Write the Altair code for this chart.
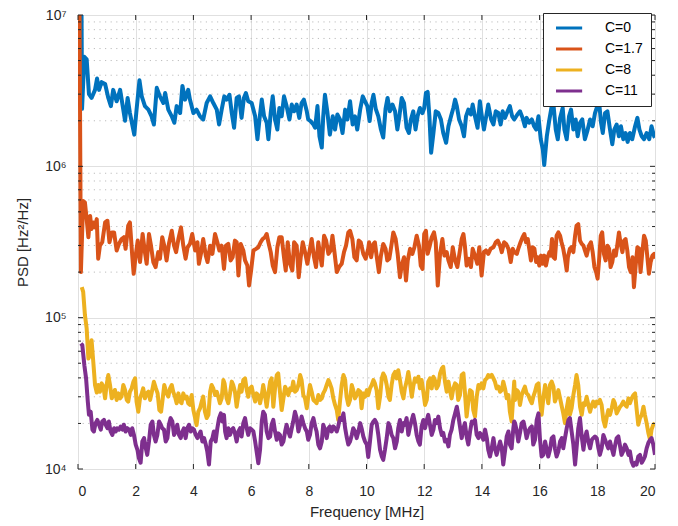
import altair as alt
import pandas as pd

SERIES = ["C=0", "C=1.7", "C=8", "C=11"]
COLORS = ["#0072BD", "#D95319", "#EDB120", "#7E2F8E"]
X_TICKS = [0, 2, 4, 6, 8, 10, 12, 14, 16, 18, 20]
Y_MAJOR = [1e4, 1e5, 1e6, 1e7]
Y_MINOR = [2e4, 3e4, 4e4, 5e4, 6e4, 7e4, 8e4, 9e4,
           2e5, 3e5, 4e5, 5e5, 6e5, 7e5, 8e5, 9e5,
           2e6, 3e6, 4e6, 5e6, 6e6, 7e6, 8e6, 9e6]

# (frequency MHz, PSD Hz^2/Hz)
C0 = [
    (0.11, 3.0e7), (0.14, 2.4e6), (0.22, 5.3e6), (0.3, 5.1e6), (0.38, 3.0e6), (0.47, 2.83e6), (0.59, 3.2e6),
    (0.66, 3.8e6), (0.73, 3.2e6), (0.82, 3.6e6), (0.94, 3.5e6), (1.05, 2.83e6), (1.14, 2.5e6), (1.22, 3.2e6),
    (1.34, 2.69e6), (1.46, 3.2e6), (1.57, 2.37e6), (1.63, 2.0e6), (1.72, 2.83e6), (1.8, 2.25e6), (1.95, 1.62e6),
    (2.03, 2.37e6), (2.13, 3.7e6), (2.21, 2.9e6), (2.32, 2.5e6), (2.44, 2.37e6), (2.55, 2.14e6), (2.63, 1.89e6),
    (2.73, 3.3e6), (2.84, 2.9e6), (2.96, 2.62e6), (3.02, 3.05e6), (3.13, 2.37e6), (3.25, 2.14e6), (3.34, 1.94e6),
    (3.42, 2.5e6), (3.54, 2.25e6), (3.62, 3.4e6), (3.71, 2.76e6), (3.82, 3.2e6), (3.88, 2.76e6), (4.0, 2.25e6),
    (4.11, 2.37e6), (4.23, 2.14e6), (4.34, 2.04e6), (4.46, 2.62e6), (4.58, 2.9e6), (4.69, 2.62e6), (4.81, 2.37e6),
    (4.89, 1.89e6), (4.98, 2.37e6), (5.07, 2.9e6),
    (5.15, 2.76e6), (5.25, 2.97e6), (5.33, 2.25e6), (5.41, 1.8e6), (5.5, 2.83e6), (5.58, 2.9e6), (5.67, 2.09e6),
    (5.75, 2.83e6), (5.82, 3.05e6), (5.9, 2.69e6), (6.02, 2.62e6), (6.08, 2.37e6), (6.14, 2.14e6), (6.22, 1.51e6),
    (6.29, 2.04e6), (6.37, 2.76e6), (6.45, 2.14e6), (6.54, 1.94e6), (6.6, 1.51e6), (6.68, 2.25e6), (6.75, 2.9e6),
    (6.83, 2.04e6), (6.91, 1.75e6), (6.98, 2.43e6), (7.06, 2.14e6), (7.14, 2.9e6), (7.23, 2.5e6), (7.33, 2.04e6),
    (7.41, 2.56e6), (7.49, 2.31e6), (7.58, 2.56e6), (7.67, 2.09e6), (7.75, 2.62e6), (7.83, 2.76e6), (7.93, 2.31e6),
    (7.98, 2.04e6), (8.06, 1.99e6), (8.16, 1.89e6), (8.22, 1.8e6), (8.3, 2.5e6), (8.37, 1.58e6), (8.45, 1.33e6),
    (8.5, 2.14e6), (8.56, 2.97e6), (8.64, 2.31e6), (8.73, 1.62e6), (8.83, 2.14e6), (8.91, 1.75e6), (8.99, 2.2e6),
    (9.08, 2.04e6), (9.17, 1.66e6), (9.26, 2.37e6), (9.34, 2.04e6), (9.43, 2.69e6), (9.52, 1.89e6), (9.6, 2.14e6),
    (9.68, 1.75e6), (9.78, 2.37e6), (9.87, 2.9e6), (9.95, 2.69e6), (10.03, 2.5e6),
    (10.11, 1.99e6), (10.18, 2.62e6), (10.24, 2.97e6), (10.32, 2.4e6), (10.41, 2.14e6), (10.5, 1.75e6),
    (10.58, 1.55e6), (10.66, 2.4e6), (10.73, 2.83e6), (10.81, 2.31e6), (10.9, 2.56e6), (10.99, 2.31e6),
    (11.07, 1.75e6), (11.14, 2.14e6), (11.22, 2.83e6), (11.3, 2.62e6), (11.39, 1.8e6), (11.47, 1.66e6),
    (11.54, 2.04e6), (11.62, 2.31e6), (11.7, 1.75e6), (11.77, 2.14e6), (11.85, 2.43e6), (11.94, 2.25e6),
    (12.0, 2.43e6), (12.06, 3.05e6), (12.12, 3.1e6), (12.18, 2.14e6), (12.24, 1.23e6), (12.32, 1.66e6),
    (12.4, 2.31e6), (12.49, 2.25e6), (12.58, 2.04e6), (12.66, 1.66e6), (12.76, 1.43e6), (12.84, 1.84e6),
    (12.93, 2.14e6), (13.01, 2.43e6), (13.07, 2.76e6), (13.13, 2.5e6), (13.21, 2.04e6), (13.3, 1.84e6),
    (13.38, 1.58e6), (13.45, 2.14e6), (13.53, 2.37e6), (13.62, 2.2e6), (13.68, 2.56e6), (13.76, 2.14e6),
    (13.85, 1.8e6), (13.93, 2.69e6), (13.99, 2.2e6), (14.07, 1.75e6), (14.13, 2.04e6), (14.22, 2.56e6),
    (14.32, 2.04e6), (14.4, 1.89e6), (14.48, 2.31e6), (14.57, 2.25e6), (14.65, 1.89e6), (14.72, 2.31e6),
    (14.8, 2.09e6), (14.89, 2.31e6), (14.97, 2.5e6), (15.05, 2.14e6), (15.12, 2.04e6),
    (15.23, 2.2e6), (15.32, 2.31e6), (15.41, 2.09e6), (15.49, 1.84e6), (15.55, 2.09e6), (15.64, 1.94e6),
    (15.73, 2.04e6), (15.81, 1.84e6), (15.88, 1.75e6), (15.96, 2.14e6), (16.04, 1.51e6), (16.11, 1.3e6),
    (16.16, 1.02e6), (16.25, 1.58e6), (16.33, 1.99e6), (16.42, 2.5e6), (16.48, 2.56e6), (16.56, 1.75e6),
    (16.63, 1.51e6), (16.71, 2.09e6), (16.8, 2.43e6), (16.86, 1.75e6), (16.94, 1.51e6), (17.02, 2.14e6),
    (17.09, 2.37e6), (17.17, 1.75e6), (17.25, 2.04e6), (17.32, 1.58e6), (17.4, 1.94e6), (17.48, 2.04e6),
    (17.57, 1.51e6), (17.65, 1.7e6), (17.75, 2.04e6), (17.84, 1.84e6), (17.92, 2.25e6), (18.0, 2.5e6),
    (18.07, 2.56e6), (18.13, 1.94e6), (18.19, 1.66e6), (18.27, 2.25e6), (18.35, 2.31e6), (18.44, 1.75e6),
    (18.52, 1.4e6), (18.59, 1.75e6), (18.67, 1.89e6), (18.75, 1.58e6), (18.82, 1.84e6), (18.9, 1.51e6),
    (18.98, 1.66e6), (19.05, 1.45e6), (19.13, 1.66e6), (19.21, 1.51e6), (19.31, 1.84e6), (19.39, 2.09e6),
    (19.46, 1.75e6), (19.54, 1.58e6), (19.62, 1.51e6), (19.71, 1.66e6), (19.8, 1.51e6), (19.88, 1.84e6),
    (19.97, 1.58e6), (20.0, 1.55e6),
]

C17 = [
    (0.04, 3.0e7), (0.1, 2.0e5), (0.18, 5.9e5), (0.24, 5.77e5), (0.3, 4.48e5), (0.36, 3.4e5), (0.42, 4.7e5),
    (0.47, 3.85e5), (0.53, 4.26e5), (0.59, 3.95e5), (0.65, 4.48e5), (0.7, 2.45e5), (0.76, 2.99e5), (0.84, 3.15e5),
    (0.94, 4.26e5), (1.02, 4.37e5), (1.09, 3.15e5), (1.17, 3.66e5), (1.25, 3.66e5), (1.34, 2.78e5), (1.42, 3.07e5),
    (1.51, 3.31e5), (1.59, 3.4e5), (1.65, 2.85e5), (1.74, 4.05e5), (1.8, 4.26e5), (1.88, 2.57e5), (1.93, 1.95e5),
    (2.0, 2.57e5), (2.07, 3.23e5), (2.15, 2.33e5), (2.24, 3.57e5), (2.32, 2.71e5), (2.38, 2.27e5), (2.46, 3.57e5),
    (2.53, 2.99e5), (2.61, 2.33e5), (2.69, 2.16e5), (2.78, 2.71e5), (2.84, 2.45e5), (2.92, 3.4e5), (2.99, 2.99e5),
    (3.07, 2.39e5), (3.15, 3.07e5), (3.25, 3.75e5), (3.33, 2.99e5), (3.4, 2.71e5), (3.48, 3.31e5), (3.57, 3.95e5),
    (3.65, 2.99e5), (3.73, 2.45e5), (3.8, 2.92e5), (3.88, 3.07e5), (3.96, 3.57e5), (4.06, 2.78e5), (4.14, 3.15e5),
    (4.19, 2.27e5), (4.26, 2.64e5), (4.34, 3.31e5), (4.43, 2.57e5), (4.49, 2.33e5), (4.58, 2.99e5), (4.66, 2.64e5),
    (4.75, 3.57e5), (4.83, 3.15e5), (4.9, 2.78e5), (4.98, 2.99e5), (5.06, 2.1e5),
    (5.13, 2.99e5), (5.21, 3.07e5), (5.29, 2.39e5), (5.36, 2.51e5), (5.44, 3.23e5), (5.5, 3.15e5), (5.56, 1.9e5),
    (5.64, 3.07e5), (5.73, 2.78e5), (5.79, 2.39e5), (5.87, 2.21e5), (5.93, 1.63e5), (6.0, 2.05e5), (6.08, 2.78e5),
    (6.17, 2.85e5), (6.25, 2.92e5), (6.33, 3.15e5), (6.4, 3.31e5), (6.48, 3.4e5), (6.54, 3.57e5), (6.6, 3.15e5),
    (6.68, 2.71e5), (6.75, 2.21e5), (6.83, 2.0e5), (6.91, 2.92e5), (6.98, 3.4e5), (7.06, 3.4e5), (7.14, 2.51e5),
    (7.2, 2.05e5), (7.27, 3.15e5), (7.35, 2.27e5), (7.43, 2.05e5), (7.49, 3.15e5), (7.58, 2.99e5), (7.65, 1.85e5),
    (7.72, 2.51e5), (7.79, 3.15e5), (7.87, 2.71e5), (7.95, 2.27e5), (8.02, 2.71e5), (8.1, 3.31e5), (8.18, 2.51e5),
    (8.25, 2.16e5), (8.33, 3.15e5), (8.39, 2.64e5), (8.45, 2.21e5), (8.53, 3.48e5), (8.6, 3.23e5), (8.68, 2.64e5),
    (8.76, 2.78e5), (8.82, 3.48e5), (8.89, 2.71e5), (8.97, 2.0e5), (9.05, 2.16e5), (9.14, 2.27e5), (9.22, 2.71e5),
    (9.29, 2.99e5), (9.37, 3.66e5), (9.43, 3.75e5), (9.51, 3.31e5), (9.58, 2.51e5), (9.66, 2.39e5), (9.73, 3.23e5),
    (9.8, 3.15e5), (9.89, 2.64e5), (9.97, 2.45e5), (10.06, 2.85e5),
    (10.09, 3.15e5), (10.16, 2.51e5), (10.24, 3.07e5), (10.29, 3.15e5), (10.35, 2.57e5), (10.43, 2.0e5),
    (10.5, 2.57e5), (10.58, 3.07e5), (10.66, 2.85e5), (10.72, 2.39e5), (10.79, 2.45e5), (10.87, 3.07e5),
    (10.93, 3.66e5), (11.01, 3.31e5), (11.08, 2.64e5), (11.16, 1.85e5), (11.22, 2.21e5), (11.3, 2.51e5),
    (11.37, 1.76e5), (11.43, 2.39e5), (11.51, 2.85e5), (11.59, 2.64e5), (11.66, 2.92e5), (11.74, 3.48e5),
    (11.82, 2.99e5), (11.88, 2.21e5), (11.94, 2.1e5), (12.0, 3.57e5), (12.06, 3.75e5), (12.12, 2.64e5),
    (12.18, 2.92e5), (12.26, 3.4e5), (12.34, 3.66e5), (12.4, 3.15e5), (12.47, 1.63e5), (12.55, 2.64e5),
    (12.63, 3.31e5), (12.7, 2.57e5), (12.78, 2.71e5), (12.84, 2.39e5), (12.92, 2.16e5), (12.99, 2.92e5),
    (13.07, 2.39e5), (13.15, 2.16e5), (13.22, 2.64e5), (13.3, 3.31e5), (13.36, 3.57e5), (13.41, 2.99e5),
    (13.47, 2.21e5), (13.55, 2.45e5), (13.62, 2.16e5), (13.68, 2.85e5), (13.76, 2.57e5), (13.84, 2.27e5),
    (13.91, 2.92e5), (13.99, 1.9e5), (14.07, 2.71e5), (14.14, 2.78e5), (14.22, 2.64e5), (14.3, 2.85e5),
    (14.4, 2.92e5), (14.48, 3.15e5), (14.55, 3.23e5), (14.63, 2.99e5), (14.69, 2.71e5), (14.77, 3.15e5),
    (14.84, 3.07e5), (14.92, 2.85e5), (15.0, 2.33e5), (15.07, 2.85e5), (15.12, 2.71e5),
    (15.21, 2.64e5), (15.26, 2.85e5), (15.34, 3.15e5), (15.41, 3.4e5), (15.47, 3.57e5), (15.53, 3.15e5),
    (15.59, 3.31e5), (15.64, 2.85e5), (15.7, 2.39e5), (15.76, 2.92e5), (15.82, 2.85e5), (15.88, 2.33e5),
    (15.93, 2.51e5), (15.99, 2.21e5), (16.05, 2.57e5), (16.11, 2.27e5), (16.16, 2.57e5), (16.22, 2.21e5),
    (16.28, 2.51e5), (16.34, 2.71e5), (16.38, 2.57e5), (16.43, 3.31e5), (16.48, 2.51e5), (16.53, 2.45e5),
    (16.59, 3.48e5), (16.65, 3.66e5), (16.71, 3.48e5), (16.76, 3.15e5), (16.82, 2.85e5), (16.88, 2.45e5),
    (16.94, 2.05e5), (16.98, 2.51e5), (17.05, 2.85e5), (17.11, 2.92e5), (17.17, 2.71e5), (17.23, 3.48e5),
    (17.28, 4.05e5), (17.34, 4.15e5), (17.4, 3.23e5), (17.46, 3.07e5), (17.52, 2.99e5), (17.57, 2.78e5),
    (17.63, 2.57e5), (17.71, 2.99e5), (17.78, 3.15e5), (17.84, 2.71e5), (17.9, 2.16e5), (17.96, 2.0e5),
    (18.01, 1.81e5), (18.07, 2.51e5), (18.12, 3.48e5), (18.17, 3.66e5), (18.23, 2.64e5), (18.29, 2.39e5),
    (18.35, 2.99e5), (18.41, 2.85e5), (18.46, 2.16e5), (18.52, 2.33e5), (18.58, 2.78e5), (18.64, 2.57e5),
    (18.69, 2.99e5), (18.75, 3.66e5), (18.81, 3.07e5), (18.87, 2.71e5), (18.93, 3.23e5), (18.98, 3.31e5),
    (19.04, 2.78e5), (19.1, 2.16e5), (19.16, 2.0e5), (19.22, 2.51e5), (19.27, 1.59e5), (19.33, 2.21e5),
    (19.39, 2.92e5), (19.45, 2.85e5), (19.5, 2.0e5), (19.56, 2.71e5), (19.62, 3.48e5), (19.68, 3.23e5),
    (19.73, 2.57e5), (19.79, 1.95e5), (19.85, 2.33e5), (19.91, 2.57e5), (19.97, 2.64e5), (20.0, 2.45e5),
]

C8 = [
    (0.13, 1.59e5), (0.18, 1.48e5), (0.24, 1.04e5), (0.3, 8.5e4), (0.36, 5.37e4), (0.42, 5.65e4), (0.47, 7.1e4),
    (0.53, 5.11e4), (0.59, 3.59e4), (0.65, 3.2e4), (0.7, 3.59e4), (0.76, 3.24e4), (0.82, 3.68e4), (0.88, 3.5e4),
    (0.94, 2.93e4), (0.99, 3.59e4), (1.05, 4.18e4), (1.11, 3.59e4), (1.17, 2.93e4), (1.22, 3.08e4), (1.28, 3.33e4),
    (1.34, 2.86e4), (1.4, 3.16e4), (1.46, 2.93e4), (1.51, 3.01e4), (1.57, 3.59e4), (1.63, 3.33e4), (1.69, 2.86e4),
    (1.74, 2.79e4), (1.8, 3.24e4), (1.86, 3.41e4), (1.92, 3.77e4), (1.98, 3.97e4), (2.03, 2.79e4), (2.09, 2.39e4),
    (2.15, 2.93e4), (2.21, 3.16e4), (2.26, 3.41e4), (2.32, 2.93e4), (2.38, 3.16e4), (2.44, 3.24e4), (2.5, 2.86e4),
    (2.55, 3.16e4), (2.63, 3.77e4), (2.7, 3.41e4), (2.76, 3.16e4), (2.82, 2.45e4), (2.88, 2.39e4), (2.93, 2.86e4),
    (2.99, 3.59e4), (3.07, 3.16e4), (3.13, 3.01e4), (3.19, 3.41e4), (3.25, 3.59e4), (3.3, 3.24e4), (3.36, 3.01e4),
    (3.42, 2.72e4), (3.48, 3.16e4), (3.54, 2.79e4), (3.59, 2.72e4), (3.65, 3.16e4), (3.71, 2.93e4), (3.77, 3.01e4),
    (3.82, 2.72e4), (3.88, 2.65e4), (3.94, 3.08e4), (4.0, 2.45e4), (4.06, 2.17e4), (4.11, 1.95e4), (4.17, 2.39e4),
    (4.23, 2.52e4), (4.29, 2.79e4), (4.34, 3.01e4), (4.4, 2.39e4), (4.46, 2.17e4), (4.52, 2.28e4), (4.58, 3.24e4),
    (4.63, 3.59e4), (4.69, 3.41e4), (4.75, 3.08e4), (4.81, 3.24e4), (4.86, 3.01e4), (4.92, 2.72e4), (4.98, 2.93e4),
    (5.04, 3.87e4), (5.08, 3.68e4),
    (5.15, 2.93e4), (5.21, 2.72e4), (5.27, 3.16e4), (5.33, 3.78e4), (5.38, 3.59e4), (5.44, 3.24e4), (5.5, 2.58e4),
    (5.56, 3.08e4), (5.62, 3.59e4), (5.67, 3.24e4), (5.73, 3.87e4), (5.79, 3.97e4), (5.85, 3.32e4), (5.9, 3.0e4),
    (5.96, 3.41e4), (6.02, 3.5e4), (6.08, 3.08e4), (6.14, 2.79e4), (6.19, 3.16e4), (6.25, 3.08e4), (6.31, 2.72e4),
    (6.37, 3.08e4), (6.42, 3.59e4), (6.48, 3.08e4), (6.54, 2.58e4), (6.6, 3.16e4), (6.66, 3.78e4), (6.71, 3.97e4),
    (6.77, 2.58e4), (6.83, 3.41e4), (6.89, 4.18e4), (6.94, 4.28e4), (7.0, 3.24e4), (7.06, 2.45e4), (7.12, 2.93e4),
    (7.18, 3.5e4), (7.23, 3.32e4), (7.29, 3.08e4), (7.35, 3.41e4), (7.41, 3.32e4), (7.46, 3.78e4), (7.52, 3.24e4),
    (7.58, 3.32e4), (7.64, 3.59e4), (7.7, 4.18e4), (7.75, 3.87e4), (7.81, 3.08e4), (7.87, 2.93e4), (7.93, 2.52e4),
    (7.98, 3.0e4), (8.04, 3.59e4), (8.1, 3.24e4), (8.16, 2.86e4), (8.22, 2.79e4), (8.27, 2.72e4), (8.33, 3.08e4),
    (8.39, 2.86e4), (8.45, 2.93e4), (8.5, 3.16e4), (8.56, 3.32e4), (8.62, 3.59e4), (8.68, 3.87e4), (8.73, 3.68e4),
    (8.79, 3.41e4), (8.85, 2.93e4), (8.91, 2.65e4), (8.97, 2.45e4), (9.02, 2.11e4), (9.08, 2.79e4), (9.14, 3.59e4),
    (9.2, 4.18e4), (9.26, 3.87e4), (9.31, 3.0e4), (9.37, 2.65e4), (9.43, 2.86e4), (9.49, 3.59e4), (9.54, 3.32e4),
    (9.6, 2.93e4), (9.66, 3.08e4), (9.72, 3.32e4), (9.78, 3.24e4), (9.83, 2.52e4), (9.89, 3.16e4), (9.95, 3.0e4),
    (10.01, 3.32e4), (10.06, 3.08e4),
    (10.12, 3.41e4), (10.18, 3.59e4), (10.24, 3.87e4), (10.29, 3.68e4), (10.35, 3.32e4), (10.41, 2.52e4),
    (10.47, 3.0e4), (10.53, 3.97e4), (10.58, 4.28e4), (10.64, 4.07e4), (10.7, 3.59e4), (10.76, 3.0e4),
    (10.81, 2.86e4), (10.87, 3.59e4), (10.93, 4.18e4), (10.99, 4.38e4), (11.05, 3.97e4), (11.1, 4.5e4),
    (11.16, 3.87e4), (11.22, 3.24e4), (11.28, 2.93e4), (11.33, 3.41e4), (11.39, 3.78e4), (11.45, 4.38e4),
    (11.51, 3.68e4), (11.57, 3.0e4), (11.62, 3.5e4), (11.68, 3.97e4), (11.74, 3.78e4), (11.8, 4.07e4),
    (11.85, 3.41e4), (11.91, 3.87e4), (11.97, 3.24e4), (12.03, 2.65e4), (12.09, 2.86e4), (12.14, 3.78e4),
    (12.2, 3.97e4), (12.26, 3.41e4), (12.32, 4.07e4), (12.37, 3.87e4), (12.43, 3.41e4), (12.49, 3.59e4),
    (12.55, 4.28e4), (12.61, 4.61e4), (12.66, 4.73e4), (12.72, 3.78e4), (12.78, 3.24e4), (12.84, 3.78e4),
    (12.89, 3.32e4), (12.95, 2.93e4), (13.01, 3.41e4), (13.07, 3.68e4), (13.13, 3.59e4), (13.18, 2.86e4),
    (13.24, 3.08e4), (13.3, 4.18e4), (13.36, 4.28e4), (13.41, 3.24e4), (13.47, 2.22e4), (13.53, 2.79e4),
    (13.59, 3.32e4), (13.65, 3.24e4), (13.7, 2.45e4), (13.76, 2.22e4), (13.82, 3.0e4), (13.88, 3.59e4),
    (13.93, 3.41e4), (13.99, 3.68e4), (14.05, 3.41e4), (14.11, 3.87e4), (14.17, 3.97e4), (14.22, 4.18e4),
    (14.28, 4.07e4), (14.34, 4.18e4), (14.4, 3.97e4), (14.45, 3.78e4), (14.51, 3.41e4), (14.57, 3.5e4),
    (14.63, 3.24e4), (14.69, 3.32e4), (14.74, 3.78e4), (14.8, 3.41e4), (14.86, 2.93e4), (14.92, 3.08e4),
    (14.97, 2.39e4), (15.03, 2.06e4), (15.09, 3.08e4), (15.12, 3.78e4),
    (15.15, 2.86e4), (15.21, 3.32e4), (15.26, 3.24e4), (15.32, 2.65e4), (15.38, 3.08e4), (15.44, 3.32e4),
    (15.49, 3.5e4), (15.55, 3.16e4), (15.61, 3.08e4), (15.67, 2.86e4), (15.73, 2.72e4), (15.78, 3.0e4),
    (15.84, 3.24e4), (15.9, 3.59e4), (15.96, 3.68e4), (16.01, 2.86e4), (16.07, 2.28e4), (16.13, 2.93e4),
    (16.19, 3.59e4), (16.24, 3.24e4), (16.3, 2.72e4), (16.36, 3.59e4), (16.42, 3.78e4), (16.48, 3.5e4),
    (16.53, 2.79e4), (16.59, 3.0e4), (16.65, 3.32e4), (16.71, 2.93e4), (16.77, 2.58e4), (16.82, 2.33e4),
    (16.88, 2.01e4), (16.94, 2.52e4), (17.0, 2.93e4), (17.05, 2.28e4), (17.11, 2.52e4), (17.17, 3.08e4),
    (17.23, 3.59e4), (17.28, 4.18e4), (17.34, 3.59e4), (17.4, 2.58e4), (17.46, 2.28e4), (17.52, 2.72e4),
    (17.57, 2.65e4), (17.63, 3.0e4), (17.69, 2.65e4), (17.75, 2.39e4), (17.81, 2.65e4), (17.86, 2.79e4),
    (17.92, 2.58e4), (17.98, 2.79e4), (18.04, 2.72e4), (18.09, 2.86e4), (18.15, 2.65e4), (18.21, 2.11e4),
    (18.27, 1.91e4), (18.33, 2.22e4), (18.38, 2.45e4), (18.44, 2.28e4), (18.5, 2.52e4), (18.56, 2.86e4),
    (18.61, 2.72e4), (18.67, 2.33e4), (18.73, 2.45e4), (18.79, 2.58e4), (18.84, 2.65e4), (18.9, 2.79e4),
    (18.96, 2.65e4), (19.02, 2.58e4), (19.08, 2.93e4), (19.13, 2.72e4), (19.19, 2.93e4), (19.25, 3.08e4),
    (19.31, 3.16e4), (19.36, 2.52e4), (19.42, 1.96e4), (19.48, 2.17e4), (19.54, 2.28e4), (19.6, 2.58e4),
    (19.65, 2.28e4), (19.71, 2.01e4), (19.77, 1.73e4), (19.83, 1.56e4), (19.88, 1.82e4), (19.94, 1.96e4),
    (20.0, 2.01e4),
]

C11 = [
    (0.1, 6.75e4), (0.15, 6.58e4), (0.22, 4.85e4), (0.28, 3.97e4), (0.34, 2.79e4), (0.38, 2.28e4), (0.44, 2.39e4),
    (0.5, 1.82e4), (0.55, 1.77e4), (0.61, 2.01e4), (0.67, 2.11e4), (0.73, 1.96e4), (0.79, 1.82e4), (0.84, 2.06e4),
    (0.9, 2.11e4), (0.96, 1.96e4), (1.02, 1.86e4), (1.07, 2.06e4), (1.13, 1.77e4), (1.19, 1.68e4), (1.25, 1.86e4),
    (1.31, 1.77e4), (1.36, 1.86e4), (1.42, 1.82e4), (1.48, 1.91e4), (1.54, 1.82e4), (1.59, 1.96e4), (1.65, 1.77e4),
    (1.71, 1.86e4), (1.77, 1.82e4), (1.83, 1.68e4), (1.88, 1.86e4), (1.94, 1.68e4), (2.0, 1.45e4), (2.06, 1.34e4),
    (2.11, 1.18e4), (2.17, 1.1e4), (2.23, 1.52e4), (2.29, 1.6e4), (2.35, 1.37e4), (2.4, 1.24e4), (2.46, 1.52e4),
    (2.52, 1.96e4), (2.58, 2.06e4), (2.63, 1.68e4), (2.69, 1.52e4), (2.75, 1.68e4), (2.81, 2.06e4), (2.87, 1.96e4),
    (2.92, 1.86e4), (2.98, 1.82e4), (3.04, 1.52e4), (3.1, 1.6e4), (3.15, 1.96e4), (3.21, 2.17e4), (3.27, 2.06e4),
    (3.33, 1.68e4), (3.39, 1.77e4), (3.44, 1.96e4), (3.5, 1.68e4), (3.56, 1.6e4), (3.62, 1.77e4), (3.67, 1.86e4),
    (3.73, 1.6e4), (3.79, 1.86e4), (3.85, 1.96e4), (3.91, 1.77e4), (3.96, 1.86e4), (4.02, 1.82e4), (4.08, 1.68e4),
    (4.14, 1.6e4), (4.19, 1.68e4), (4.25, 1.77e4), (4.31, 1.52e4), (4.37, 1.6e4), (4.43, 1.45e4), (4.48, 1.31e4),
    (4.54, 1.07e4), (4.6, 1.52e4), (4.66, 1.6e4), (4.71, 1.77e4), (4.77, 1.52e4), (4.83, 1.86e4), (4.89, 2.17e4),
    (4.95, 2.33e4), (5.0, 2.06e4), (5.06, 2.28e4),
    (5.1, 1.77e4), (5.15, 1.6e4), (5.21, 1.86e4), (5.27, 1.68e4), (5.33, 1.82e4), (5.38, 1.86e4), (5.44, 1.72e4),
    (5.5, 1.52e4), (5.56, 1.77e4), (5.62, 1.86e4), (5.67, 1.64e4), (5.73, 2.01e4), (5.79, 2.17e4), (5.85, 1.86e4),
    (5.9, 1.68e4), (5.96, 1.86e4), (6.02, 1.82e4), (6.08, 1.77e4), (6.14, 1.52e4), (6.19, 1.31e4), (6.25, 1.09e4),
    (6.31, 1.34e4), (6.37, 2.06e4), (6.42, 2.39e4), (6.48, 2.28e4), (6.54, 1.77e4), (6.6, 1.6e4), (6.66, 1.64e4),
    (6.71, 1.96e4), (6.77, 2.11e4), (6.83, 1.77e4), (6.89, 1.56e4), (6.94, 1.72e4), (7.0, 1.68e4), (7.06, 1.45e4),
    (7.12, 1.52e4), (7.18, 1.77e4), (7.23, 1.96e4), (7.29, 1.77e4), (7.35, 1.64e4), (7.41, 1.86e4), (7.46, 2.06e4),
    (7.52, 2.39e4), (7.58, 2.17e4), (7.64, 1.77e4), (7.7, 1.96e4), (7.75, 2.22e4), (7.81, 2.01e4), (7.87, 1.86e4),
    (7.93, 1.77e4), (7.98, 1.56e4), (8.04, 1.68e4), (8.1, 2.01e4), (8.16, 2.17e4), (8.22, 1.91e4), (8.27, 1.77e4),
    (8.33, 1.45e4), (8.39, 1.37e4), (8.45, 1.52e4), (8.5, 1.96e4), (8.56, 1.82e4), (8.62, 1.6e4), (8.68, 1.86e4),
    (8.73, 1.91e4), (8.79, 1.77e4), (8.85, 1.91e4), (8.91, 1.86e4), (8.97, 1.77e4), (9.02, 1.91e4), (9.08, 2.17e4),
    (9.14, 2.11e4), (9.2, 2.33e4), (9.26, 1.86e4), (9.31, 1.64e4), (9.37, 1.45e4), (9.43, 1.52e4), (9.49, 1.68e4),
    (9.54, 1.86e4), (9.6, 1.77e4), (9.66, 1.6e4), (9.72, 1.77e4), (9.78, 2.01e4), (9.83, 1.86e4), (9.89, 1.64e4),
    (9.95, 1.52e4), (10.01, 1.45e4), (10.06, 1.2e4),
    (10.12, 1.52e4), (10.18, 1.96e4), (10.24, 2.06e4), (10.29, 2.11e4), (10.35, 2.01e4), (10.41, 1.68e4),
    (10.47, 1.34e4), (10.53, 1.21e4), (10.58, 1.15e4), (10.64, 1.34e4), (10.7, 1.6e4), (10.76, 2.01e4),
    (10.81, 1.91e4), (10.87, 1.68e4), (10.93, 1.6e4), (10.99, 1.37e4), (11.05, 1.52e4), (11.1, 1.86e4),
    (11.16, 2.11e4), (11.22, 1.77e4), (11.28, 2.01e4), (11.33, 1.96e4), (11.39, 2.17e4), (11.45, 1.68e4),
    (11.51, 1.91e4), (11.57, 2.11e4), (11.62, 2.28e4), (11.68, 2.01e4), (11.74, 1.68e4), (11.8, 1.52e4),
    (11.85, 1.45e4), (11.91, 1.91e4), (11.97, 2.11e4), (12.03, 1.86e4), (12.09, 2.11e4), (12.14, 2.28e4),
    (12.2, 1.96e4), (12.26, 1.68e4), (12.32, 1.82e4), (12.37, 2.11e4), (12.43, 2.01e4), (12.49, 2.22e4),
    (12.55, 1.86e4), (12.61, 1.68e4), (12.66, 1.73e4), (12.72, 1.52e4), (12.78, 1.56e4), (12.84, 1.41e4),
    (12.89, 1.68e4), (12.95, 1.82e4), (13.01, 2.11e4), (13.07, 2.33e4), (13.13, 2.58e4), (13.18, 2.28e4),
    (13.24, 1.91e4), (13.3, 1.6e4), (13.36, 1.86e4), (13.41, 2.01e4), (13.47, 1.64e4), (13.53, 1.45e4),
    (13.59, 1.77e4), (13.65, 2.06e4), (13.7, 2.01e4), (13.76, 2.11e4), (13.82, 1.68e4), (13.88, 1.6e4),
    (13.93, 1.73e4), (13.99, 1.68e4), (14.05, 1.56e4), (14.11, 1.82e4), (14.17, 1.6e4), (14.22, 1.34e4),
    (14.28, 1.21e4), (14.34, 1.37e4), (14.4, 1.6e4), (14.45, 1.37e4), (14.51, 1.24e4), (14.57, 1.37e4),
    (14.63, 1.52e4), (14.69, 1.37e4), (14.74, 1.07e4), (14.8, 1.31e4), (14.86, 1.64e4), (14.92, 1.77e4),
    (14.97, 1.45e4), (15.03, 1.37e4), (15.09, 1.86e4), (15.12, 2.06e4),
    (15.15, 2.01e4), (15.21, 1.77e4), (15.26, 1.52e4), (15.32, 1.73e4), (15.38, 2.01e4), (15.44, 2.06e4),
    (15.49, 1.86e4), (15.55, 1.6e4), (15.61, 1.77e4), (15.67, 1.86e4), (15.73, 1.91e4), (15.78, 1.45e4),
    (15.84, 1.56e4), (15.9, 2.11e4), (15.96, 2.33e4), (16.01, 1.6e4), (16.07, 1.21e4), (16.13, 1.24e4),
    (16.19, 1.52e4), (16.24, 1.37e4), (16.3, 1.21e4), (16.36, 1.34e4), (16.42, 1.6e4), (16.48, 1.64e4),
    (16.53, 1.37e4), (16.59, 1.21e4), (16.65, 1.31e4), (16.71, 1.52e4), (16.77, 1.6e4), (16.82, 1.37e4),
    (16.88, 1.6e4), (16.94, 1.86e4), (17.0, 2.11e4), (17.05, 2.17e4), (17.11, 1.77e4), (17.17, 1.45e4),
    (17.23, 1.07e4), (17.28, 1.37e4), (17.34, 1.86e4), (17.4, 2.17e4), (17.46, 1.64e4), (17.52, 1.34e4),
    (17.57, 1.6e4), (17.63, 1.77e4), (17.69, 1.52e4), (17.75, 1.37e4), (17.81, 1.56e4), (17.86, 1.6e4),
    (17.92, 1.64e4), (17.98, 1.6e4), (18.04, 1.37e4), (18.09, 1.24e4), (18.15, 1.37e4), (18.21, 1.68e4),
    (18.27, 1.56e4), (18.33, 1.45e4), (18.38, 1.37e4), (18.44, 1.52e4), (18.5, 1.37e4), (18.56, 1.24e4),
    (18.61, 1.41e4), (18.67, 1.6e4), (18.73, 1.64e4), (18.79, 1.41e4), (18.84, 1.24e4), (18.9, 1.31e4),
    (18.96, 1.45e4), (19.02, 1.37e4), (19.08, 1.24e4), (19.13, 1.31e4), (19.19, 1.12e4), (19.25, 1.05e4),
    (19.31, 1.1e4), (19.36, 1.07e4), (19.42, 1.21e4), (19.48, 1.24e4), (19.54, 1.1e4), (19.6, 1.15e4),
    (19.65, 1.21e4), (19.71, 1.37e4), (19.77, 1.49e4), (19.83, 1.56e4), (19.88, 1.6e4), (19.94, 1.45e4),
    (20.0, 1.24e4),
]

SERIES_DATA = [C0, C17, C8, C11]

rows = []
for name, pts in zip(SERIES, SERIES_DATA):
    for f, p in pts:
        rows.append({"series": name, "f": f, "p": p})
df = pd.DataFrame(rows)

W, H = 577, 454
AX = "#262626"
FONT = "Liberation Sans"

xs = alt.Scale(domain=[0, 20], nice=False, zero=False)
ys = alt.Scale(type="log", domain=[1e4, 1e7], nice=False)
cs = alt.Scale(domain=SERIES, range=COLORS)

y_label_expr = ("datum.value == 10000 ? '10⁴' : datum.value == 100000 ? '10⁵' : "
                "datum.value == 1000000 ? '10⁶' : '10⁷'")

X_AXIS = alt.Axis(
    values=X_TICKS, grid=True, gridColor="#e0e0e0", ticks=False, tickSize=0, domain=False,
    title="Frequency [MHz]", labelFontSize=14, labelColor=AX, labelFont=FONT, labelPadding=15,
    titleFontSize=15, titleColor=AX, titleFont=FONT, titleFontWeight="normal", titlePadding=6)
Y_AXIS = alt.Axis(
    values=Y_MAJOR, grid=True, gridColor="#e0e0e0", ticks=False, tickSize=0, domain=False,
    labelExpr=y_label_expr, title="PSD [Hz²/Hz]", labelFontSize=14, labelColor=AX, labelFont=FONT,
    labelPadding=12, titleFontSize=15, titleColor=AX, titleFont=FONT, titleFontWeight="normal",
    titlePadding=14)
LEGEND = alt.Legend(
    title=None, orient="none", legendX=465, legendY=-2, symbolType="M0,0H6", symbolSize=76,
    symbolStrokeWidth=3, symbolOffset=-2, labelFontSize=14, labelFont=FONT, labelColor="#000000",
    strokeColor=AX, fillColor="white", padding=8, rowPadding=7, labelOffset=42)

minor_df = pd.DataFrame({"v": Y_MINOR})
major_df = pd.DataFrame({"v": Y_MAJOR})
xt_df = pd.DataFrame({"t": X_TICKS})

minor_grid = alt.Chart(minor_df).mark_rule(color="#bdbdbd", strokeWidth=1, strokeDash=[1.2, 4.4]).encode(
    y=alt.Y("v:Q", scale=ys, axis=Y_AXIS)
)

line_layers = []
for i, name in enumerate(SERIES):
    line_layers.append(
        alt.Chart(df).transform_filter(alt.datum.series == name)
        .mark_line(strokeWidth=4, clip=True, strokeJoin="round")
        .encode(
            x=alt.X("f:Q", scale=xs, axis=X_AXIS),
            y=alt.Y("p:Q", scale=ys, axis=Y_AXIS),
            color=alt.Color("series:N", scale=cs, legend=LEGEND),
            order=alt.Order("f:Q"),
        )
    )

tick_style = dict(color=AX, strokeWidth=1)
xt_bottom = alt.Chart(xt_df).mark_rule(**tick_style).encode(
    x=alt.X("t:Q", scale=xs, axis=X_AXIS), y=alt.value(H), y2=alt.value(H - 5))
xt_top = alt.Chart(xt_df).mark_rule(**tick_style).encode(
    x=alt.X("t:Q", scale=xs, axis=X_AXIS), y=alt.value(0), y2=alt.value(5))
yt_left = alt.Chart(major_df).mark_rule(**tick_style).encode(
    y=alt.Y("v:Q", scale=ys, axis=Y_AXIS), x=alt.value(0), x2=alt.value(5))
yt_right = alt.Chart(major_df).mark_rule(**tick_style).encode(
    y=alt.Y("v:Q", scale=ys, axis=Y_AXIS), x=alt.value(W), x2=alt.value(W - 5))
ymt_left = alt.Chart(minor_df).mark_rule(**tick_style).encode(
    y=alt.Y("v:Q", scale=ys, axis=Y_AXIS), x=alt.value(0), x2=alt.value(3))
ymt_right = alt.Chart(minor_df).mark_rule(**tick_style).encode(
    y=alt.Y("v:Q", scale=ys, axis=Y_AXIS), x=alt.value(W), x2=alt.value(W - 3))

chart = alt.layer(
    minor_grid, *line_layers, xt_bottom, xt_top, yt_left, yt_right, ymt_left, ymt_right
).properties(
    width=W, height=H,
    autosize=alt.AutoSizeParams(type="none"),
    padding={"left": 70, "top": 7, "right": 14, "bottom": 55},
).configure_view(
    stroke=AX, strokeWidth=1
).configure(
    background="white", font=FONT
)

chart.save("out.html", embed_options={"renderer": "svg", "actions": False})
